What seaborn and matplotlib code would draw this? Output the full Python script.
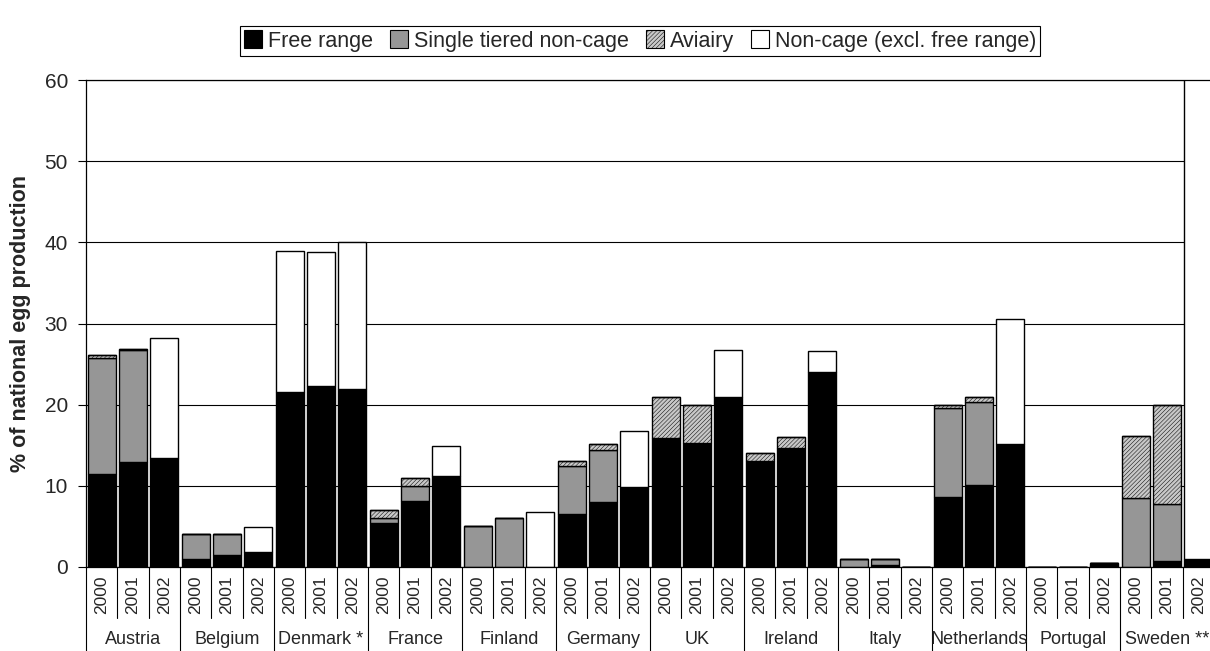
import numpy as np
import pandas as pd
import matplotlib
matplotlib.use("Agg")
import matplotlib.pyplot as plt
import matplotlib.transforms as mtransforms
from matplotlib.patches import Patch
import seaborn as sns

# countries / years on the two-level x axis
countries = ["Austria", "Belgium", "Denmark *", "France", "Finland", "Germany",
             "UK", "Ireland", "Italy", "Netherlands", "Portugal", "Sweden **"]
years = ["2000", "2001", "2002"]

# % of national egg production, 3 values (2000, 2001, 2002) per country
free_range = [11.4, 12.9, 13.4,   1.0, 1.5, 1.8,    21.5, 22.3, 21.9,
              5.4, 8.1, 11.2,     0.0, 0.0, 0.0,    6.5, 8.0, 9.8,
              15.9, 15.3, 21.0,   13.1, 14.6, 24.0, 0.0, 0.2, 0.0,
              8.6, 10.1, 15.2,    0.0, 0.0, 0.5,    0.0, 0.8, 1.0]
single_tier = [14.4, 13.8, 0.0,   3.1, 2.6, 0.0,    0.0, 0.0, 0.0,
               0.6, 1.9, 0.0,     5.0, 6.0, 0.0,    6.0, 6.4, 0.0,
               0.0, 0.0, 0.0,     0.0, 0.0, 0.0,    1.0, 0.8, 0.0,
               11.0, 10.2, 0.0,   0.0, 0.0, 0.0,    8.5, 7.0, 0.0]
aviary = [0.3, 0.2, 0.0,   0.0, 0.0, 0.0,   0.0, 0.0, 0.0,
          1.0, 1.0, 0.0,   0.0, 0.0, 0.0,   0.5, 0.7, 0.0,
          5.1, 4.7, 0.0,   0.9, 1.4, 0.0,   0.0, 0.0, 0.0,
          0.3, 0.7, 0.0,   0.0, 0.0, 0.0,   7.6, 12.1, 0.0]
non_cage = [0.0, 0.0, 14.8,   0.0, 0.0, 3.1,   17.4, 16.5, 18.1,
            0.0, 0.0, 3.7,    0.0, 0.0, 6.8,   0.0, 0.0, 7.0,
            0.0, 0.0, 5.7,    0.0, 0.0, 2.6,   0.0, 0.0, 0.0,
            0.0, 0.0, 15.3,   0.0, 0.0, 0.0,   0.0, 0.0, 63.0]

sns.set_style("white")
plt.rcParams['font.family'] = ['Liberation Sans', 'DejaVu Sans']
plt.rcParams['hatch.linewidth'] = 0.35

df = pd.DataFrame({
    "slot": [f"{c} {y}" for c in countries for y in years],
    "free": free_range,
    "single": single_tier,
    "aviary": aviary,
    "noncage": non_cage,
})

fig = plt.figure(figsize=(12.1, 6.51), dpi=100)
ax = fig.add_axes([86 / 1210, 84 / 651, 1128 / 1210, 487 / 651])

layers = [
    ("free", "black", None, "Free range"),
    ("single", "#969696", None, "Single tiered non-cage"),
    ("aviary", "#c8c8c8", "////////", "Aviairy"),
    ("noncage", "white", None, "Non-cage (excl. free range)"),
]

bottom = np.zeros(len(df))
handles = []
for col, color, hatch, label in layers:
    sns.barplot(data=df, x="slot", y=col, order=list(df["slot"]), color=color,
                saturation=1, width=0.9, errorbar=None, edgecolor="black",
                linewidth=1, hatch=hatch, bottom=bottom.copy(), ax=ax)
    bottom += df[col].to_numpy()
    handles.append(Patch(facecolor=color, edgecolor="black", hatch=hatch,
                         linewidth=0.8, label=label))

ax.set_xlim(-0.5, len(df) - 0.5)
ax.set_ylim(0, 60)
ax.set_xticks([])
ax.set_xlabel("")
ax.set_yticks(range(0, 61, 10))
ax.yaxis.grid(True, color="black", linewidth=0.8)
ax.set_axisbelow(True)
ax.tick_params(axis="y", direction="out", length=6, width=0.8, left=True,
               labelsize=15, pad=7, color="black")
for side in ["left", "bottom", "top"]:
    ax.spines[side].set_color("black")
    ax.spines[side].set_linewidth(0.9)
ax.spines["right"].set_visible(False)

ax.set_ylabel("% of national egg production", fontsize=15.5, fontweight="bold")
ax.yaxis.set_label_coords(-0.049, 0.5)

# two-level category axis
trans = mtransforms.blended_transform_factory(ax.transData, ax.transAxes)
for k in range(len(df) + 1):
    ybot = -0.2 if k % 3 == 0 else -0.105
    ax.plot([k - 0.5, k - 0.5], [0, ybot], transform=trans, color="black",
            linewidth=0.8, clip_on=False)
for k in range(len(df)):
    ax.text(k, -8 / 487, years[k % 3], rotation=90, ha="center", va="top",
            transform=trans, fontsize=12.5)
for i, name in enumerate(countries):
    ax.text(3 * i + 1, -73 / 487, name, ha="center", va="center",
            transform=trans, fontsize=13)

leg = fig.legend(handles=handles, loc="center", bbox_to_anchor=(640 / 1210, 1 - 41 / 651),
                 ncol=4, fontsize=15.5, frameon=True, fancybox=False, edgecolor="black",
                 framealpha=1, handlelength=0.85, handleheight=0.85, handletextpad=0.25,
                 columnspacing=0.8, borderpad=0.2, borderaxespad=0)
leg.get_frame().set_linewidth(0.8)

fig.savefig("out.png", dpi=100)
